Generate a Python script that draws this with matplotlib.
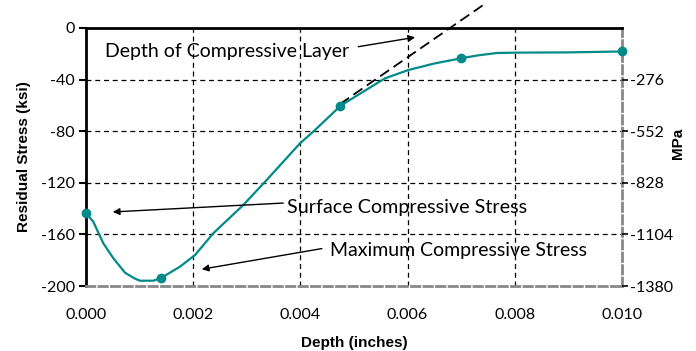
import matplotlib
matplotlib.use("Agg")
import matplotlib.pyplot as plt
import numpy as np

# curve (depth in inches, stress in ksi)
depth = [0.0, 0.000136, 0.000323, 0.00051, 0.000728, 0.00090, 0.001007, 0.001256, 0.0014,
         0.001754, 0.002034, 0.002375, 0.002935, 0.003371, 0.003993, 0.004272, 0.004752,
         0.00517, 0.00558, 0.006013, 0.0065, 0.007, 0.0073, 0.00766, 0.00804, 0.009, 0.010]
stress = [-143.5, -150.2, -166.9, -178.5, -189.7, -194.0, -195.9, -195.9, -193.8,
          -185.0, -176.0, -159.1, -137.2, -117.8, -89.4, -79.1, -60.2,
          -49.4, -39.0, -32.6, -27.5, -23.5, -21.3, -19.4, -19.1, -18.9, -18.2]

# measured points with markers
mark_depth = [0.0, 0.0014, 0.00474, 0.0070, 0.010]
mark_stress = [-143.5, -193.8, -60.2, -23.5, -18.2]

# tangent line for the depth of compressive layer
tan_depth = [0.00474, 0.00741]
tan_stress = [-58.9, 17.8]

xticks = [0.0, 0.002, 0.004, 0.006, 0.008, 0.010]
yticks = [0, -40, -80, -120, -160, -200]
mpa_ticks = [-40, -80, -120, -160, -200]
mpa_labels = ["-276", "-552", "-828", "-1104", "-1380"]

teal = "#008a8a"
body = ["Lato", "DejaVu Sans"]

fig = plt.figure(figsize=(6.96, 3.51), dpi=100)
ax = fig.add_axes([86/696, 1-286/351, 536/696, 258/351])

ax.set_xlim(0, 0.010)
ax.set_ylim(-200, 0)
ax.set_xticks(xticks)
ax.set_xticklabels([f"{t:.3f}" for t in xticks], family=body, fontsize=11.5)
ax.set_yticks(yticks)
ax.set_yticklabels([str(t) for t in yticks], family=body, fontsize=11.5)
ax.tick_params(axis="x", length=0, pad=16)
ax.tick_params(axis="y", length=5, width=1.5, pad=3)

for v in xticks[1:-1]:
    ax.axvline(v, color="black", lw=0.9, ls=(0, (4, 3)), zorder=1)
for v in yticks[1:-1]:
    ax.axhline(v, color="black", lw=0.9, ls=(0, (4, 3)), zorder=1)

ax.spines["left"].set_linewidth(2)
ax.spines["top"].set_linewidth(2)
for s in ["right", "bottom"]:
    ax.spines[s].set_color("#888888")
    ax.spines[s].set_linewidth(2)
    ax.spines[s].set_linestyle((0, (3, 1.5)))

ax.plot(depth, stress, color=teal, lw=1.6, zorder=3)
ax.plot(mark_depth, mark_stress, "o", color=teal, ms=6, zorder=4, clip_on=False)
ax.plot(tan_depth, tan_stress, color="black", lw=1.3, ls=(0, (6, 3)), zorder=3, clip_on=False)

ax.set_xlabel("Depth (inches)", family="Liberation Sans", fontweight="bold", fontsize=11, labelpad=10)
ax.set_ylabel("Residual Stress (ksi)", family="Liberation Sans", fontweight="bold", fontsize=11, labelpad=7)

ax2 = ax.twinx()
ax2.set_ylim(-200, 0)
ax2.set_yticks(mpa_ticks)
ax2.set_yticklabels(mpa_labels, family=body, fontsize=11.5)
ax2.tick_params(axis="y", length=4, width=1.2, pad=2)
for s in ax2.spines.values():
    s.set_visible(False)
ax2.set_ylabel("MPa", family="Liberation Sans", fontweight="bold", fontsize=11)
ax2.yaxis.set_label_coords(1.091, 0.554)

arrow = dict(arrowstyle="-|>", color="black", lw=1, mutation_scale=10, shrinkA=0, shrinkB=0)
ax.text(0.00035, -18.6, "Depth of Compressive Layer", family=body, fontsize=14, va="center")
ax.annotate("", xy=(0.00614, -7.2), xytext=(0.00508, -14.5), arrowprops=arrow)
ax.text(0.00375, -139.5, "Surface Compressive Stress", family=body, fontsize=14.2, va="center")
ax.annotate("", xy=(0.0005, -142.6), xytext=(0.00368, -135.7), arrowprops=arrow)
ax.text(0.00455, -172.5, "Maximum Compressive Stress", family=body, fontsize=14, va="center")
ax.annotate("", xy=(0.00216, -187.0), xytext=(0.0044, -171.0), arrowprops=arrow)

fig.savefig("out.png", dpi=100)
